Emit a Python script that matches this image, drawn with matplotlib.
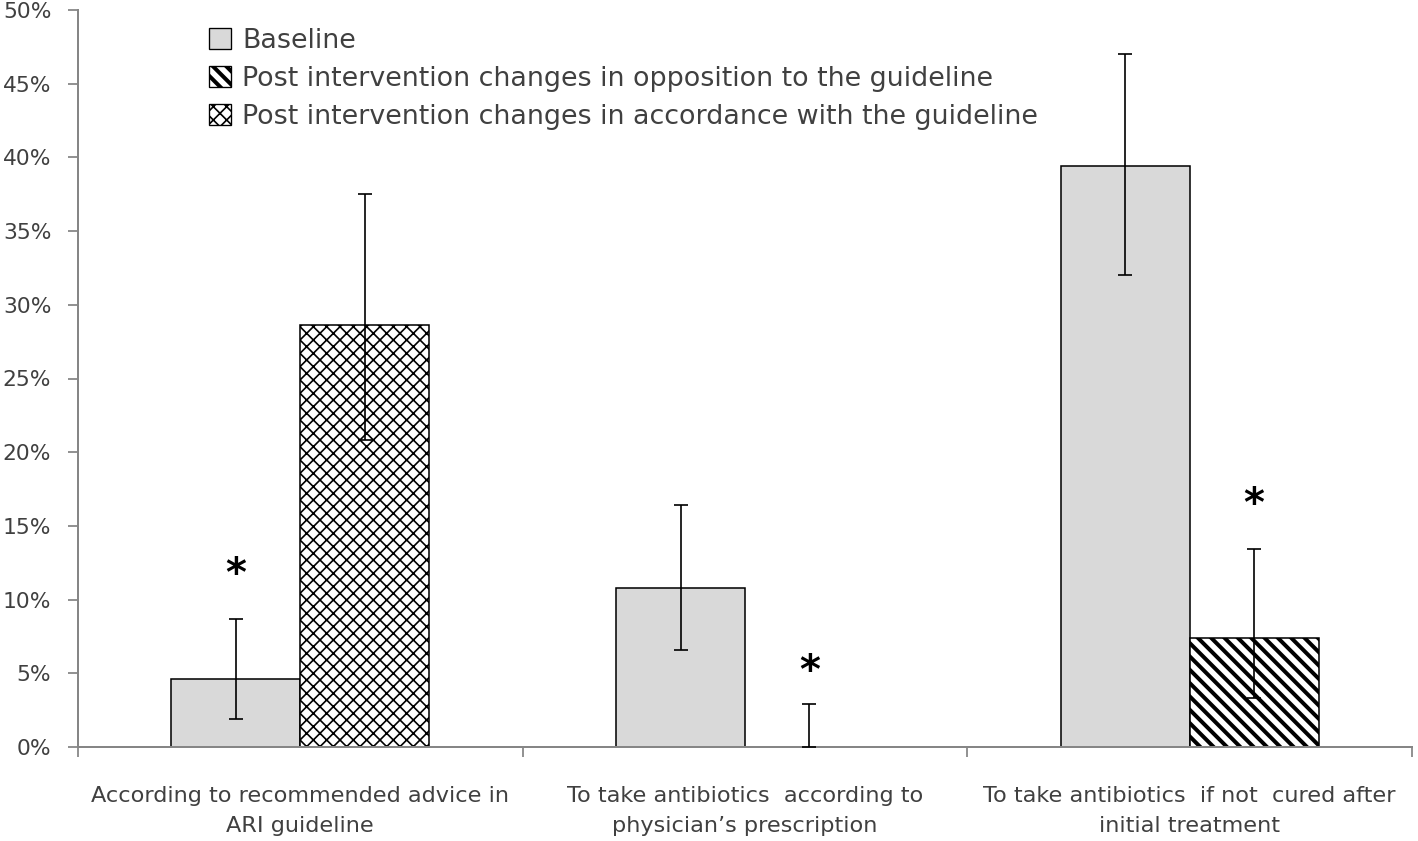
import numpy as np
import matplotlib
matplotlib.use("Agg")
import matplotlib.pyplot as plt
from matplotlib.patches import Patch

# values in percent
categories = [
    "According to recommended advice in\nARI guideline",
    "To take antibiotics  according to\nphysician\u2019s prescription",
    "To take antibiotics  if not  cured after\ninitial treatment",
]
baseline = [4.6, 10.8, 39.4]
baseline_lo = [1.9, 6.6, 32.0]
baseline_hi = [8.7, 16.4, 47.0]

post = [28.6, 0.0, 7.4]
post_lo = [20.8, 0.0, 3.3]
post_hi = [37.5, 2.9, 13.4]
post_kind = ["accordance", "opposition", "opposition"]

# asterisk marks: which bar (0 = baseline, 1 = post) and height in %
star_bar = [0, 1, 1]
star_y = [11.7, 5.1, 16.4]

yticks = [0, 5, 10, 15, 20, 25, 30, 35, 40, 45, 50]
legend_labels = [
    "Baseline",
    "Post intervention changes in opposition to the guideline",
    "Post intervention changes in accordance with the guideline",
]
legend_kinds = [None, "opposition", "accordance"]

DPI = 160
W, H = 1418, 841
plt.rcParams["font.family"] = ["DejaVu Sans"]

GREY_FILL = "#d9d9d9"
AXIS_GREY = "#868686"
TEXT_COL = "#404040"
# hatch pattern + hatch line width (pt); density is relative to dpi
hatch_style = {"opposition": ("\\" * 4, 1.8), "accordance": ("xxxx", 0.75)}


def style_patch(p, kind):
    hatch, lw = hatch_style[kind]
    p.set_hatch(hatch)
    if hasattr(p, "set_hatch_linewidth"):
        p.set_hatch_linewidth(lw)


fig = plt.figure(figsize=(W / DPI, H / DPI), dpi=DPI)
ax = fig.add_axes([78 / W, 94 / H, (1412 - 78) / W, (747 - 10) / H])

x = np.arange(len(categories))
bw = 0.29

ax.bar(x - bw / 2, baseline, bw, color=GREY_FILL, edgecolor="black", linewidth=0.7, zorder=2)
for i in range(len(categories)):
    plt.rcParams["hatch.linewidth"] = hatch_style[post_kind[i]][1]
    r = ax.bar(x[i] + bw / 2, post[i], bw, color="white", edgecolor="black",
               linewidth=0.7, zorder=2)[0]
    style_patch(r, post_kind[i])
    if post[i] == 0:
        r.set_visible(False)

err_kw = dict(fmt="none", ecolor="black", elinewidth=0.75, capsize=3.3, capthick=0.75, zorder=3)
ax.errorbar(x - bw / 2, baseline,
            yerr=[np.subtract(baseline, baseline_lo), np.subtract(baseline_hi, baseline)], **err_kw)
ax.errorbar(x + bw / 2, post,
            yerr=[np.subtract(post, post_lo), np.subtract(post_hi, post)], **err_kw)

for i in range(len(categories)):
    sx = x[i] - bw / 2 if star_bar[i] == 0 else x[i] + bw / 2
    ax.text(sx, star_y[i], "*", ha="center", va="center", fontsize=18,
            fontweight="bold", color="black")

ax.set_xlim(-0.5, 2.5)
ax.set_ylim(0, 50)
ax.set_yticks(yticks)
ax.set_yticklabels([f"{t}%" for t in yticks])
ax.set_xticks([-0.5, 0.5, 1.5, 2.5])
ax.set_xticklabels([])
ax.set_xticks(x, minor=True)
ax.set_xticklabels(categories, minor=True, fontsize=10.1, color=TEXT_COL, linespacing=1.66)
ax.tick_params(axis="x", which="minor", length=0, pad=17.5)
ax.tick_params(axis="x", which="major", length=4.5, width=0.8, color=AXIS_GREY, direction="out")
ax.tick_params(axis="y", length=4.5, width=0.8, color=AXIS_GREY, labelsize=9.8,
               labelcolor=TEXT_COL, pad=7.5)

for s in ["top", "right"]:
    ax.spines[s].set_visible(False)
for s in ["left", "bottom"]:
    ax.spines[s].set_color(AXIS_GREY)
    ax.spines[s].set_linewidth(0.9)

handles = [Patch(facecolor=GREY_FILL, edgecolor="black", linewidth=0.6)]
for kind in legend_kinds[1:]:
    p = Patch(facecolor="white", edgecolor="black", linewidth=0.6)
    style_patch(p, kind)
    handles.append(p)

leg = fig.legend(handles, legend_labels, loc="upper left",
                 bbox_to_anchor=(209 / W, 1 - 28 / H), bbox_transform=fig.transFigure,
                 frameon=False, fontsize=12.1, handlelength=0.82, handleheight=0.82,
                 handletextpad=0.42, labelspacing=0.44, borderpad=0, borderaxespad=0,
                 labelcolor=TEXT_COL)
# the legend copies of the patches don't keep the hatch line width
for h, kind in zip(leg.legend_handles, legend_kinds):
    if kind is not None:
        style_patch(h, kind)

fig.savefig("out.png", dpi=DPI)
